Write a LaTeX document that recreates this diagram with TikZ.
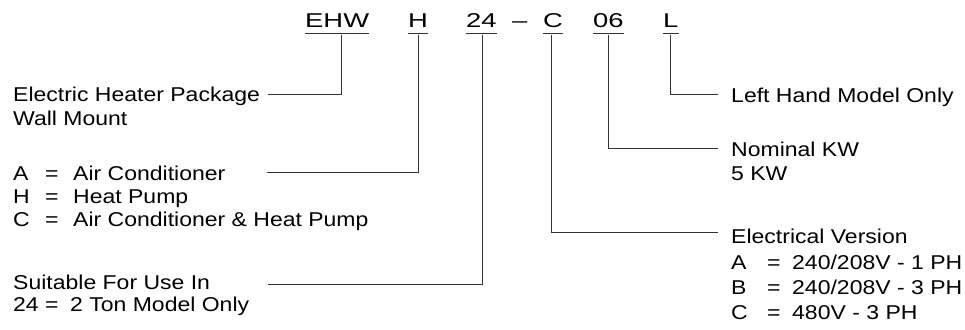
\documentclass[tikz,border=0pt]{standalone}
\usepackage{fontspec}
\setmainfont{Liberation Sans}[FakeStretch=1.15]
\newfontfamily\codefont{Liberation Sans}
\usepackage{tikz}

\tikzset{
  code/.style={inner sep=0pt,anchor=base west,font=\codefont\fontsize{20}{24}\selectfont},
  desc/.style={inner sep=0pt,anchor=base west,font=\fontsize{20}{24}\selectfont},
  lead/.style={line width=0.9pt,color=black!80}
}
\newcommand{\wide}[1]{\scalebox{1.37}[1]{#1}}
\newcommand{\keyline}[4]{\makebox[#1][l]{#3}\makebox[#2][l]{=}#4}

\begin{document}
\begin{tikzpicture}[x=1pt,y=-1pt]
  \useasboundingbox (0,0) rectangle (965,329);
  % model number
  \node[code] (ehw) at (305,28) {\wide{EHW}};
  \node[code] (heat) at (408,28) {\wide{H}};
  \node[code] (size) at (466,28) {\wide{24}};
  \node[code] (dash) at (512,28) {\wide{\textendash}};
  \node[code] (volt) at (543,28) {\wide{C}};
  \node[code] (kw) at (593,28) {\wide{06}};
  \node[code] (hand) at (663,28) {\wide{L}};
  \draw[lead] ([yshift=-5pt]ehw.base west) -- ([yshift=-5pt]ehw.base east);
  \draw[lead] ([yshift=-5pt]heat.base west) -- ([yshift=-5pt]heat.base east);
  \draw[lead] ([yshift=-5pt]size.base west) -- ([yshift=-5pt]size.base east);
  \draw[lead] ([yshift=-5pt]volt.base west) -- ([yshift=-5pt]volt.base east);
  \draw[lead] ([yshift=-5pt]kw.base west) -- ([yshift=-5pt]kw.base east);
  \draw[lead] ([yshift=-5pt]hand.base west) -- ([yshift=-5pt]hand.base east);
  % left side
  \node[desc] (ehwa) at (13,101) {Electric Heater Package};
  \node[desc] (ehwb) at (13,125) {Wall Mount};
  \node[desc] (heata) at (13,180) {\keyline{32pt}{28pt}{A}{Air Conditioner}};
  \node[desc] (heatb) at (13,203) {\keyline{32pt}{28pt}{H}{Heat Pump}};
  \node[desc] (heatc) at (13,226) {\keyline{32pt}{28pt}{C}{Air Conditioner \& Heat Pump}};
  \node[desc] (sizea) at (13,289) {Suitable For Use In};
  \node[desc] (sizeb) at (13,311) {\keyline{32pt}{25pt}{24}{2 Ton Model Only}};
  % right side
  \node[desc] (handa) at (731,102) {Left Hand Model Only};
  \node[desc] (kwa) at (731,156) {Nominal KW};
  \node[desc] (kwb) at (731,180) {5 KW};
  \node[desc] (volta) at (731,243) {Electrical Version};
  \node[desc] (voltb) at (731,269) {\keyline{36pt}{25pt}{A}{240/208V - 1 PH}};
  \node[desc] (voltc) at (731,294) {\keyline{36pt}{25pt}{B}{240/208V - 3 PH}};
  \node[desc] (voltd) at (731,319) {\keyline{36pt}{25pt}{C}{480V - 3 PH}};
  % leaders
  \coordinate (ehwend) at (268,94);
  \coordinate (heatend) at (267,172);
  \coordinate (sizeend) at (268,284);
  \coordinate (voltend) at (718,232);
  \coordinate (kwend) at (718,148);
  \coordinate (handend) at (718,94);
  \draw[lead] ([xshift=4pt,yshift=-7pt]ehw.base) |- (ehwend);
  \draw[lead] ([yshift=-7pt]heat.base) |- (heatend);
  \draw[lead] ([xshift=1pt,yshift=-7pt]size.base) |- (sizeend);
  \draw[lead] ([xshift=-2pt,yshift=-7pt]volt.base) |- (voltend);
  \draw[lead] ([yshift=-7pt]kw.base) |- (kwend);
  \draw[lead] ([yshift=-7pt]hand.base) |- (handend);
\end{tikzpicture}
\end{document}
